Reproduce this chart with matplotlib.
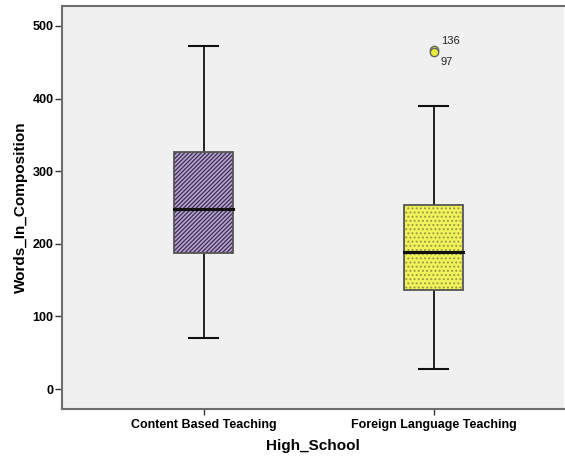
import matplotlib
matplotlib.use("Agg")
import matplotlib.pyplot as plt
from matplotlib.patches import Rectangle

plt.rcParams.update({"font.family": ["Liberation Sans", "DejaVu Sans"],
                     "hatch.linewidth": 0.9})

groups = ["Content Based Teaching", "Foreign Language Teaching"]
whislo = [70, 27]
q1 = [187, 136]
med = [248, 189]
q3 = [326, 253]
whishi = [472, 390]
fills = ["#b9a2d6", "#f2f25a"]
hatches = ["////////", "...."]
hatch_cols = ["#3a2f4a", "#9a9a48"]
outlier_vals = [467, 464]
outlier_ids = ["136", "97"]

fig = plt.figure(figsize=(5.65, 4.58), dpi=100)
ax = fig.add_axes([0.1097, 0.107, 0.888, 0.88])
ax.set_facecolor("#f0f0f0")

stats = [dict(whislo=whislo[i], q1=q1[i], med=med[i], q3=q3[i], whishi=whishi[i], fliers=[])
         for i in range(2)]
pos = [1, 2]
bw = 0.257
ax.bxp(stats, positions=pos, widths=bw, capwidths=0.126, showfliers=False,
       patch_artist=True,
       boxprops=dict(facecolor="none", edgecolor="none"),
       whiskerprops=dict(color="#111", lw=1.3),
       capprops=dict(color="#111", lw=1.5),
       medianprops=dict(color="#111", lw=2.2))

for i, p in enumerate(pos):
    ax.add_patch(Rectangle((p - bw / 2, q1[i]), bw, q3[i] - q1[i], facecolor=fills[i],
                           edgecolor=hatch_cols[i], hatch=hatches[i], lw=0, zorder=2))
    ax.add_patch(Rectangle((p - bw / 2, q1[i]), bw, q3[i] - q1[i], facecolor="none",
                           edgecolor="#555", lw=1.3, zorder=2.5))
    ax.plot([p - bw / 2, p + bw / 2], [med[i], med[i]], color="#111", lw=2.2, zorder=3)

ax.scatter([2, 2], outlier_vals, s=36, facecolor="#ecec3a", edgecolor="#666", lw=1, zorder=4)
ax.annotate(outlier_ids[0], (2, outlier_vals[0]), xytext=(5, 4), textcoords="offset points",
            fontsize=8, color="#222")
ax.annotate(outlier_ids[1], (2, outlier_vals[1]), xytext=(5, -9), textcoords="offset points",
            fontsize=8, color="#222")

ax.set_xlim(0.383, 2.565)
ax.set_ylim(-27.5, 527.5)
ax.set_yticks([0, 100, 200, 300, 400, 500])
ax.set_xticks(pos)
ax.set_xticklabels(groups, fontsize=9, fontweight="bold")
for lab in ax.get_yticklabels():
    lab.set_fontsize(9)
    lab.set_fontweight("bold")
ax.tick_params(axis="y", length=5, width=1, color="#333", pad=1)
ax.tick_params(axis="x", length=4, width=1, color="#333", pad=3)
ax.set_xlabel("High_School", fontsize=11, fontweight="bold", labelpad=6)
ax.set_ylabel("Words_In_Composition", fontsize=11, fontweight="bold", labelpad=3)

for side in ["top", "bottom", "left"]:
    ax.spines[side].set_color("#6e6e6e")
    ax.spines[side].set_linewidth(1.5)
ax.spines["right"].set_visible(False)

fig.savefig("out.png", dpi=100)
